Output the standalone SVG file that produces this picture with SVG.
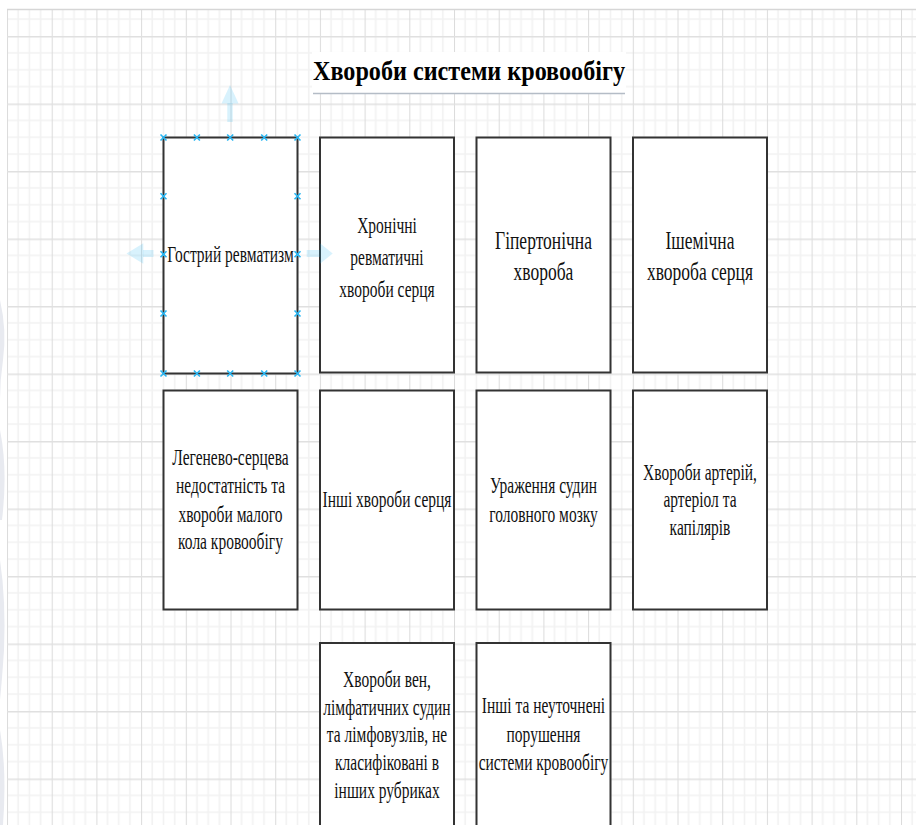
<svg xmlns="http://www.w3.org/2000/svg" width="916" height="825" viewBox="0 0 916 825">
<style>
.box{fill:#ffffff;stroke:#333333;stroke-width:2}
.t{font-family:"Liberation Serif","Times New Roman",serif;font-size:15.5px;fill:#111111;text-anchor:middle}
.tl{font-size:17.5px}
.title{font-family:"Liberation Serif","Times New Roman",serif;font-size:27.5px;font-weight:bold;fill:#000000;text-anchor:middle}
.h{stroke:#29b6f2;stroke-width:1.6;fill:none}
.ghost{fill:#29b6f2;fill-opacity:0.18}
</style>
<defs>
<pattern id="grid" patternUnits="userSpaceOnUse" x="51.7" y="36" width="44.7" height="67.5">
<rect width="44.7" height="67.5" fill="#ffffff"/>
<g stroke="#f2f2f2" stroke-width="1.6">
<line x1="11.18" y1="0" x2="11.18" y2="67.5"/>
<line x1="22.35" y1="0" x2="22.35" y2="67.5"/>
<line x1="33.53" y1="0" x2="33.53" y2="67.5"/>
<line x1="0" y1="16.875" x2="44.7" y2="16.875"/>
<line x1="0" y1="33.75" x2="44.7" y2="33.75"/>
<line x1="0" y1="50.625" x2="44.7" y2="50.625"/>
</g>
<line x1="0.5" y1="0" x2="0.5" y2="67.5" stroke="#dcdcdc" stroke-width="1"/>
<line x1="0" y1="0.75" x2="44.7" y2="0.75" stroke="#e0e0e0" stroke-width="1.5"/>
</pattern>
</defs>
<rect x="0" y="0" width="916" height="825" fill="#ffffff"/>
<rect x="7" y="9.5" width="909" height="815.5" fill="url(#grid)"/>
<line x1="7" y1="9.5" x2="916" y2="9.5" stroke="#d6d6d6" stroke-width="1.5"/>
<g id="watermark" fill="#e8eaf0">
<path d="M0 300 Q7 330 3 360 Q0 380 0 400 Z"/>
<path d="M0 430 Q8 470 2 520 L0 520 Z"/>
<path d="M0 560 Q6 600 4 650 Q2 680 0 700 Z"/>
<path d="M0 730 Q7 770 3 825 L0 825 Z"/>
</g>
<g id="title">
<rect x="312" y="52" width="314" height="42" fill="#ffffff"/>
<text class="title" x="469" y="80" textLength="312" lengthAdjust="spacingAndGlyphs">Хвороби системи кровообігу</text>
<line x1="313" y1="93.5" x2="625" y2="93.5" stroke="#b4bcc6" stroke-width="1.5"/>
</g>
<g id="connectors"></g>
<g id="n1"><rect class="box" x="163.5" y="137.5" width="134" height="236"/>
<g transform="scale(1,1.5)"><text class="t" x="230.5" y="174.7">Гострий ревматизм</text></g></g>
<g id="n2"><rect class="box" x="320" y="137.5" width="134" height="235"/>
<g transform="scale(1,1.5)"><text class="t" x="387" y="155.5">Хронічні<tspan x="387" y="176.7">ревматичні</tspan><tspan x="387" y="197.8">хвороби серця</tspan></text></g></g>
<g id="n3"><rect class="box" x="476.5" y="137.5" width="134" height="235"/>
<g transform="scale(1,1.5)"><text class="t tl" x="543.5" y="165.8">Гіпертонічна<tspan x="543.5" y="187">хвороба</tspan></text></g></g>
<g id="n4"><rect class="box" x="633" y="137.5" width="134" height="235"/>
<g transform="scale(1,1.5)"><text class="t tl" x="700" y="165.8">Ішемічна<tspan x="700" y="187">хвороба серця</tspan></text></g></g>
<g id="n5"><rect class="box" x="163.5" y="390.5" width="134" height="219"/>
<g transform="scale(1,1.5)"><text class="t" x="230.5" y="310">Легенево-серцева<tspan x="230.5" y="328.9">недостатність та</tspan><tspan x="230.5" y="347.8">хвороби малого</tspan><tspan x="230.5" y="366.3">кола кровообігу</tspan></text></g></g>
<g id="n6"><rect class="box" x="320" y="390.5" width="134" height="219"/>
<g transform="scale(1,1.5)"><text class="t" x="387" y="338">Інші хвороби серця</text></g></g>
<g id="n7"><rect class="box" x="476.5" y="390.5" width="134" height="219"/>
<g transform="scale(1,1.5)"><text class="t" x="543.5" y="328.7">Ураження судин<tspan x="543.5" y="348">головного мозку</tspan></text></g></g>
<g id="n8"><rect class="box" x="633" y="390.5" width="134" height="219"/>
<g transform="scale(1,1.5)"><text class="t" x="700" y="320">Хвороби артерій,<tspan x="700" y="338.2">артеріол та</tspan><tspan x="700" y="356.7">капілярів</tspan></text></g></g>
<g id="n9"><rect class="box" x="320" y="643" width="134" height="200"/>
<g transform="scale(1,1.5)"><text class="t" x="387" y="457.8">Хвороби вен,<tspan x="387" y="476.7">лімфатичних судин</tspan><tspan x="387" y="494.5">та лімфовузлів, не</tspan><tspan x="387" y="513.3">класифіковані в</tspan><tspan x="387" y="532.2">інших рубриках</tspan></text></g></g>
<g id="n10"><rect class="box" x="476.5" y="643" width="134" height="200"/>
<g transform="scale(1,1.5)"><text class="t" x="543.5" y="475.5">Інші та неуточнені<tspan x="543.5" y="494.5">порушення</tspan><tspan x="543.5" y="513.3">системи кровообігу</tspan></text></g></g>
<g id="selection">
<g class="ghost">
<rect x="227.3" y="103" width="5.4" height="19"/>
<polygon points="221.5,103.5 230,85 238.5,103.5"/>
<rect x="143" y="250" width="10.5" height="7"/>
<polygon points="143.3,243.3 126.5,253.5 143.3,263.7"/>
<rect x="306.7" y="250" width="13.3" height="7"/>
<polygon points="320,243.3 332.7,253.5 320,263.7"/>
</g>
<g class="h">
<path d="M160.5 134.5l6 6M166.5 134.5l-6 6"/>
<path d="M193.9 134.5l6 6M199.9 134.5l-6 6"/>
<path d="M227.2 134.5l6 6M233.2 134.5l-6 6"/>
<path d="M261.2 134.5l6 6M267.2 134.5l-6 6"/>
<path d="M294.5 134.5l6 6M300.5 134.5l-6 6"/>
<path d="M160.5 370.5l6 6M166.5 370.5l-6 6"/>
<path d="M193.9 370.5l6 6M199.9 370.5l-6 6"/>
<path d="M227.2 370.5l6 6M233.2 370.5l-6 6"/>
<path d="M261.2 370.5l6 6M267.2 370.5l-6 6"/>
<path d="M294.5 370.5l6 6M300.5 370.5l-6 6"/>
<path d="M160.5 193.2l6 6M166.5 193.2l-6 6"/>
<path d="M160.5 251.2l6 6M166.5 251.2l-6 6"/>
<path d="M160.5 310.5l6 6M166.5 310.5l-6 6"/>
<path d="M294.5 193.2l6 6M300.5 193.2l-6 6"/>
<path d="M294.5 251.2l6 6M300.5 251.2l-6 6"/>
<path d="M294.5 310.5l6 6M300.5 310.5l-6 6"/>
</g>
</g>
</svg>
